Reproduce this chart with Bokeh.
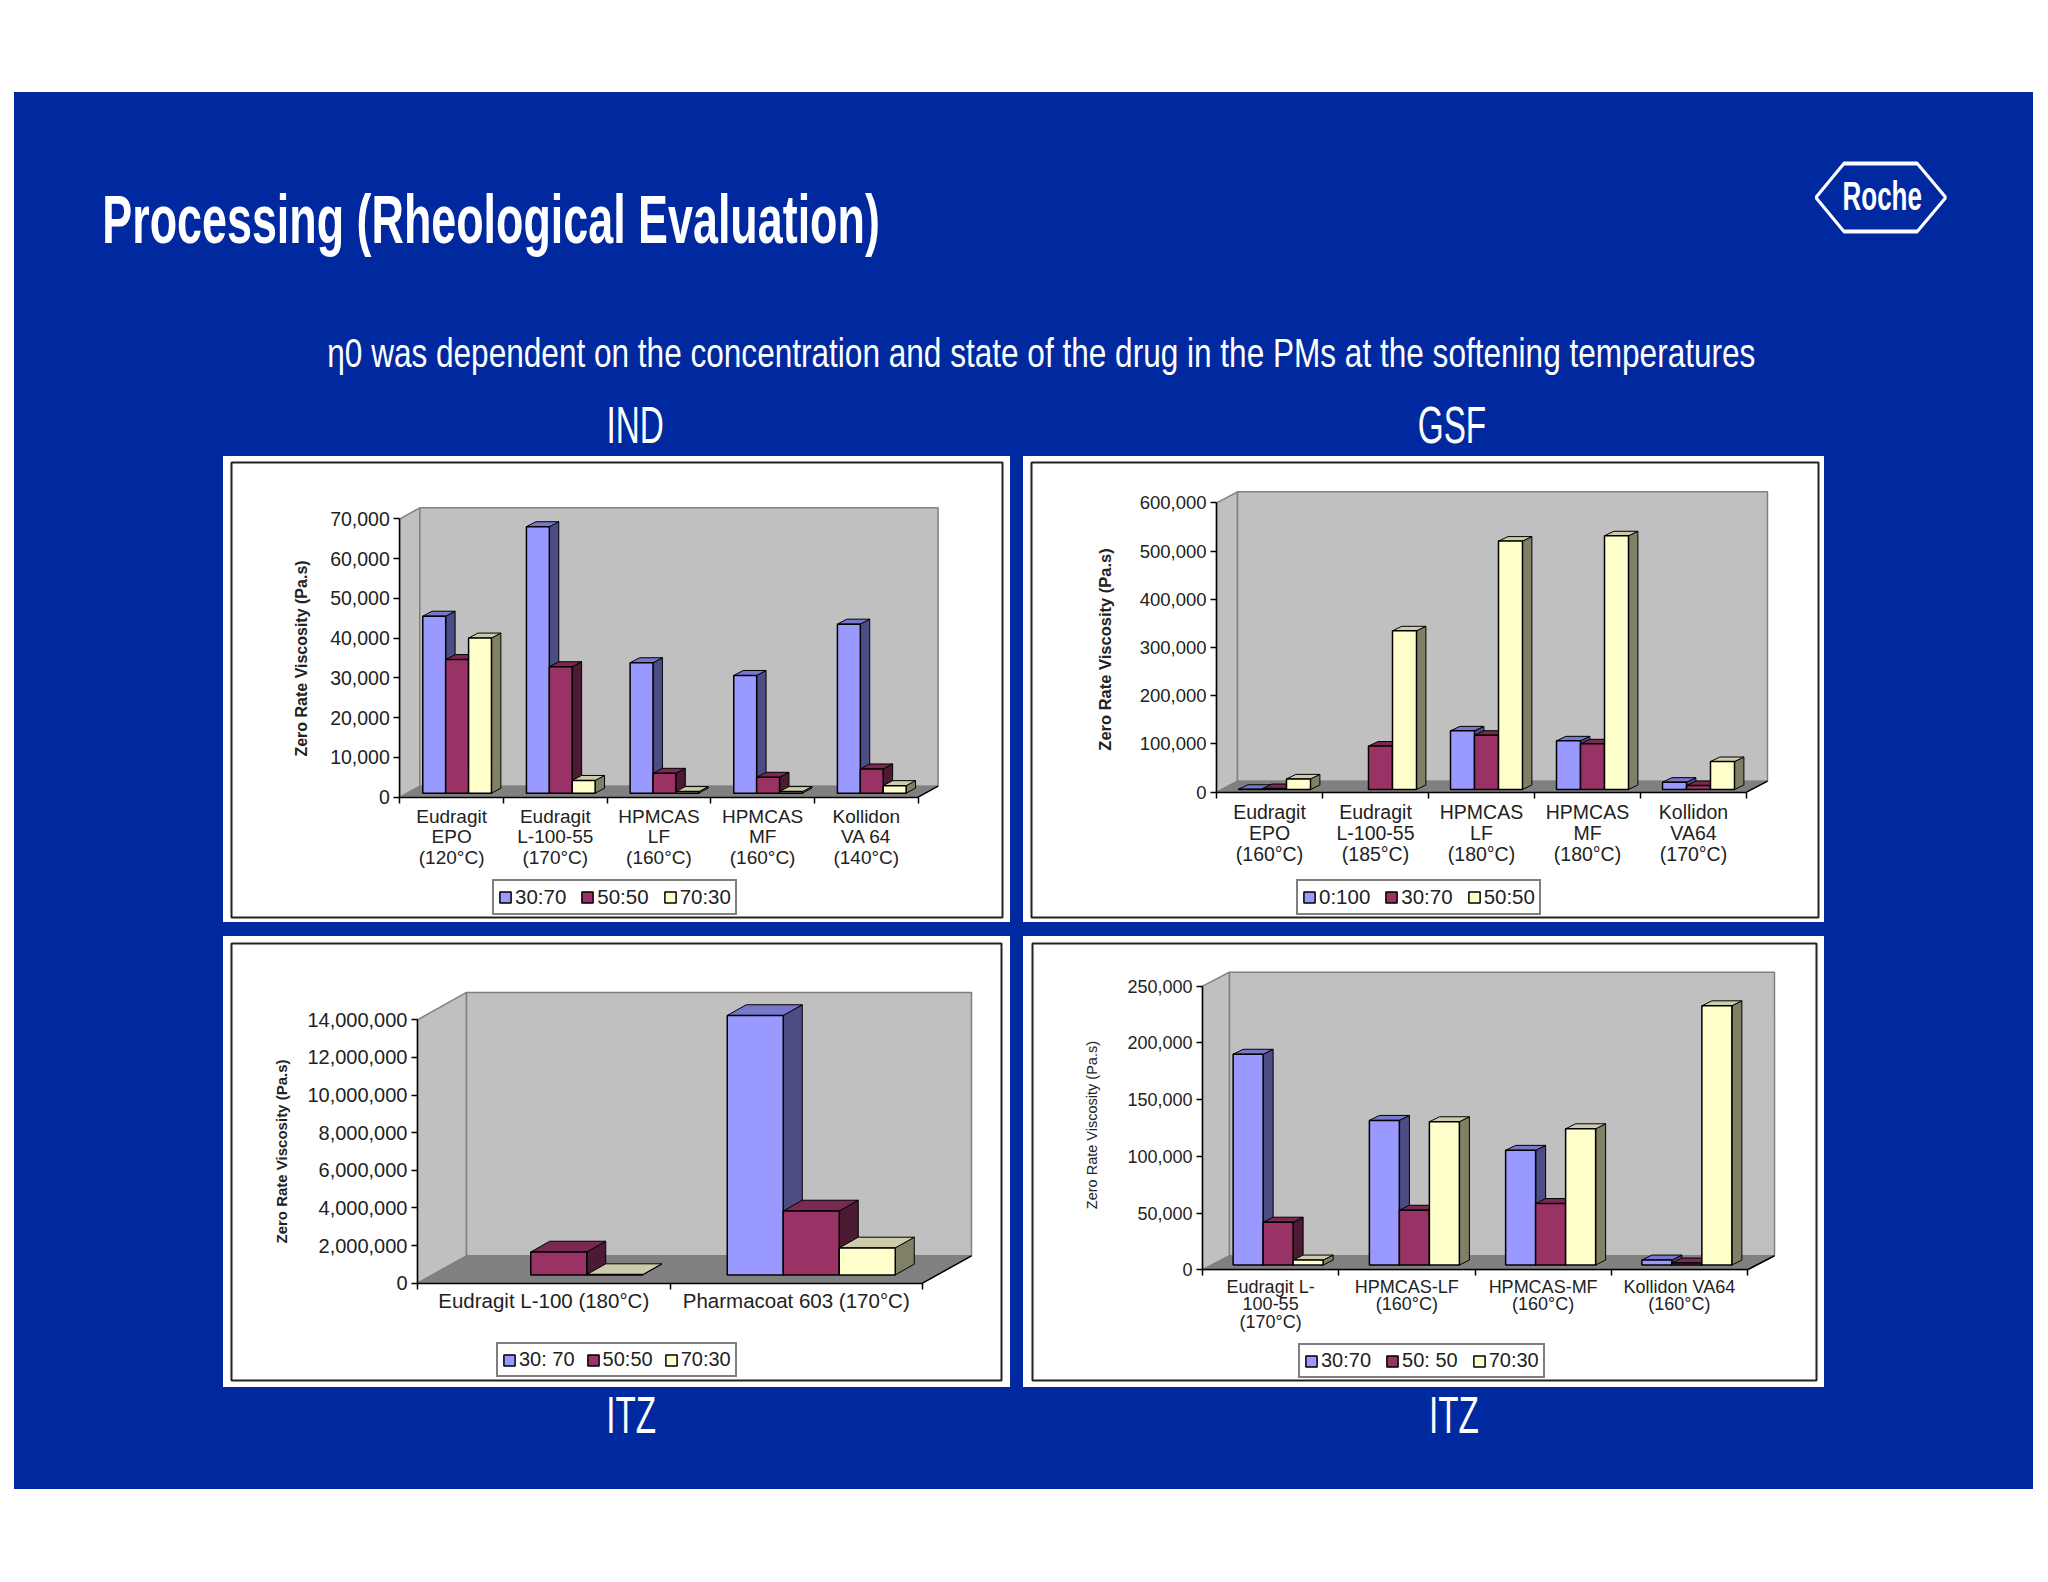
import math
from bokeh.plotting import figure
from bokeh.layouts import column, row
from bokeh.models import Range1d, FixedTicker, NumeralTickFormatter, Legend, LegendItem
from bokeh.core.properties import value
from bokeh.embed import file_html
from bokeh.resources import INLINE

# ---------- data ----------
title_text = "Processing (Rheological Evaluation)"
subtitle_text = "η0 was dependent on the concentration and state of the drug in the PMs at the softening temperatures"
ylabel_text = "Zero Rate Viscosity (Pa.s)"

ind_categories = ["Eudragit\nEPO\n(120°C)", "Eudragit\nL-100-55\n(170°C)", "HPMCAS\nLF\n(160°C)", "HPMCAS\nMF\n(160°C)", "Kollidon\nVA 64\n(140°C)"]
ind_series = ["30:70", "50:50", "70:30"]
ind_a = [44500, 67000, 32800, 29600, 42500]
ind_b = [33600, 31800, 5000, 4000, 6100]
ind_c = [39000, 3200, 400, 400, 1900]
ind_ticks = [0, 10000, 20000, 30000, 40000, 50000, 60000, 70000]

gsf_categories = ["Eudragit\nEPO\n(160°C)", "Eudragit\nL-100-55\n(185°C)", "HPMCAS\nLF\n(180°C)", "HPMCAS\nMF\n(180°C)", "Kollidon\nVA64\n(170°C)"]
gsf_series = ["0:100", "30:70", "50:50"]
gsf_a = [500, 0, 121600, 100900, 15200]
gsf_b = [2000, 90000, 112600, 94700, 8300]
gsf_c = [22000, 329000, 515000, 526000, 58000]
gsf_ticks = [0, 100000, 200000, 300000, 400000, 500000, 600000]

itz1_categories = ["Eudragit L-100 (180°C)", "Pharmacoat 603 (170°C)"]
itz1_series = ["30: 70", "50:50", "70:30"]
itz1_a = [0, 13790000]
itz1_b = [1220000, 3400000]
itz1_c = [20000, 1435000]
itz1_ticks = [0, 2000000, 4000000, 6000000, 8000000, 10000000, 12000000, 14000000]

itz2_categories = ["Eudragit L-\n100-55\n(170°C)", "HPMCAS-LF\n(160°C)", "HPMCAS-MF\n(160°C)", "Kollidon VA64\n(160°C)"]
itz2_series = ["30:70", "50: 50", "70:30"]
itz2_a = [185800, 127500, 101100, 4400]
itz2_b = [37800, 48300, 54200, 1800]
itz2_c = [4400, 126300, 120100, 228500]
itz2_ticks = [0, 50000, 100000, 150000, 200000, 250000]

BLUE = "#00299f"
FILL = ["#9999ff", "#993366", "#ffffcc"]
SIDE = ["#4d4d85", "#4d1a33", "#808066"]
TOP = ["#7777cc", "#7a2952", "#ccccaa"]
SANS = "Liberation Sans"


def chart(cats, series, vals, ticks, panel, inner, axis, depth, bars, legend_box, ylab,
          tick_size="19.5px", x_size="19px", x_line=0.96, x_standoff=3, label_size="16px", label_style="bold",
          legend_size="20.5px", legend_spacing=14, margin=(0, 0, 0, 0)):
    pl, pt, pr, pb = panel
    il, it, ir, ib = inner
    ax0, ax1, ay0, aym = axis
    dx, dy = depth
    sx, sy, bw, bx, by = bars
    n = len(cats)
    ymax = ticks[-1]
    cat = (ax1 - ax0) / n
    vpp = ymax / (ay0 - aym)
    p = figure(width=pr - pl, height=pb - pt, output_backend="svg", toolbar_location=None,
               x_range=Range1d(-(ax0 - il) / cat, (ir - ax0) / cat),
               y_range=Range1d(-(ib - ay0) * vpp, (ay0 - it) * vpp),
               min_border_left=il - pl, min_border_right=pr - ir, min_border_top=it - pt, min_border_bottom=pb - ib,
               background_fill_color="white", border_fill_color="white",
               outline_line_color="#222222", outline_line_width=2,
               margin=margin, styles={"background-color": "white"})
    p.grid.visible = False
    du, dv = dx / cat, dy * vpp
    # walls and floor
    p.patch([0, du, du, 0], [0, dv, ymax + dv, ymax], fill_color="#c0c0c0", line_color="#808080", line_width=1.5)
    p.patch([du, n + du, n + du, du], [dv, dv, ymax + dv, ymax + dv], fill_color="#c0c0c0", line_color="#808080", line_width=1.5)
    p.patch([0, n, n + du, du], [0, 0, dv, dv], fill_color="#808080", line_color="#808080")
    p.line([n, n + du], [0, dv], line_color="black", line_width=1.5)
    # bars
    items = []
    bu, bv = bx / cat, by * vpp
    wu = bw / cat
    pad = ((cat - 3 * bw) / 2 + sx) / cat
    base = sy * vpp
    for j, (name, vs) in enumerate(zip(series, vals)):
        idx = [i for i in range(n) if vs[i] > 0]
        lft = [i + pad + j * wu for i in idx]
        rgt = [l + wu for l in lft]
        top = [base + vs[i] for i in idx]
        bot = [base] * len(idx)
        p.patches([[r, r + bu, r + bu, r] for r in rgt],
                  [[b, b + bv, t + bv, t] for b, t in zip(bot, top)],
                  fill_color=SIDE[j], line_color="black", line_width=1)
        p.patches([[l, r, r + bu, l + bu] for l, r in zip(lft, rgt)],
                  [[t, t, t + bv, t + bv] for t in top],
                  fill_color=TOP[j], line_color="black", line_width=1)
        g = p.quad(left=lft, right=rgt, bottom=bot, top=top, fill_color=FILL[j], line_color="black", line_width=1.5)
        items.append(LegendItem(label=name, renderers=[g]))
    # y axis
    ya = p.yaxis[0]
    ya.fixed_location = 0
    ya.bounds = (0, ymax)
    ya.ticker = FixedTicker(ticks=ticks)
    ya.formatter = NumeralTickFormatter(format="0,0")
    ya.major_tick_in = 0
    ya.major_tick_out = 6
    ya.minor_tick_in = 0
    ya.minor_tick_out = 0
    ya.axis_line_color = "black"
    ya.axis_line_width = 1.5
    ya.major_tick_line_width = 1.5
    ya.major_label_text_font = SANS
    ya.major_label_text_font_size = tick_size
    ya.major_label_text_color = "#222222"
    ya.major_label_standoff = 4
    # rotated value-axis title, centred where the reference has it
    lx, ly = ylab
    p.text([(lx - ax0) / cat], [(ay0 - ly) * vpp], text=[ylabel_text], angle=math.pi / 2,
           text_font=value(SANS), text_font_size=label_size, text_font_style=label_style,
           text_color="#222222", text_align="center", text_baseline="middle")
    # x axis: labels at group centres, ticks at group edges
    xa = p.xaxis[0]
    xa.fixed_location = 0
    xa.bounds = (0, n)
    centres = [i + 0.5 for i in range(n)]
    xa.ticker = FixedTicker(ticks=centres, minor_ticks=list(range(n + 1)))
    xa.major_label_overrides = {c: t for c, t in zip(centres, cats)}
    xa.major_tick_in = 0
    xa.major_tick_out = 0
    xa.minor_tick_in = 0
    xa.minor_tick_out = 6
    xa.axis_line_color = "black"
    xa.axis_line_width = 1.5
    xa.minor_tick_line_width = 1.5
    xa.major_label_text_font = SANS
    xa.major_label_text_font_size = x_size
    xa.major_label_text_line_height = x_line
    xa.major_label_text_color = "#222222"
    xa.major_label_standoff = x_standoff
    # legend
    lx0, ly0, lx1, ly1 = legend_box
    leg = Legend(items=items, orientation="horizontal", location=(lx0 - il, ib - ly1 - 3),
                 label_text_font=SANS, label_text_font_size=legend_size, label_text_color="#222222",
                 glyph_width=14, glyph_height=14, spacing=legend_spacing, padding=4, margin=0,
                 label_standoff=3, label_height=16,
                 border_line_color="black", border_line_width=2, background_fill_color="white",
                 background_fill_alpha=1)
    p.add_layout(leg, "center")
    return p


def band(y0, h, k):
    """A strip of the blue slide, squeezed sideways by k because the slide's type is condensed.
    Bokeh measures the host after the CSS transform, hence the k squared."""
    w = int(round(2019 / (k * k)))
    p = figure(width=w, height=h, output_backend="svg", toolbar_location=None,
               x_range=Range1d(14, 2033), y_range=Range1d(y0 + h, y0),
               min_border=0, background_fill_color=BLUE, border_fill_color=BLUE, outline_line_color=None,
               styles={"transform": f"scaleX({k})", "transform-origin": "0 0",
                       "width": f"{w}px", "min-width": f"{w}px", "max-width": "none"})
    p.axis.visible = False
    p.grid.visible = False
    return p


def label(p, x, y, text, size, style="normal", align="center"):
    # y is the wanted baseline; the alphabetic setting lands about 0.35 em below it
    p.text([x], [y - 0.35 * float(size[:-2])], text=[text], text_color="white", text_font=value(SANS),
           text_font_size=size, text_font_style=style, text_align=align, text_baseline="alphabetic")


head_a = band(92, 218, 0.65)
label(head_a, 102, 243, title_text, "69px", style="bold", align="left")
head_a.patch([1843.7, 1917, 1945.6, 1917, 1843.7, 1815.6], [163, 163, 197, 231, 231, 197],
             fill_alpha=0, line_color="white", line_width=4)
label(head_a, 1882, 209, "Roche", "40px", style="bold")

head_b = band(310, 80, 0.77)
label(head_b, 327, 367, subtitle_text, "41px", align="left")

head_c = band(390, 66, 0.64)
label(head_c, 635, 443, "IND", "52px")
label(head_c, 1452, 443, "GSF", "52px")

c1 = chart(ind_categories, ind_series, [ind_a, ind_b, ind_c], ind_ticks,
           (223, 456, 1010, 922), (231, 462, 1002, 917), (399.3, 917.6, 796.7, 518.3), (20, 11), (5.5, 4, 22.9, 9.4, 5),
           (492, 883, 740, 912), (301, 658), margin=(0, 0, 0, 209))
c2 = chart(gsf_categories, gsf_series, [gsf_a, gsf_b, gsf_c], gsf_ticks,
           (1023, 456, 1824, 922), (1031, 462, 1818, 917), (1216, 1746, 791.7, 502.3), (21, 11), (5, 2.7, 24, 9.4, 4.5),
           (1296, 882, 1550, 912), (1104, 649), tick_size="18.5px", x_size="19.5px", x_line=0.96, x_standoff=3,
           label_size="16.5px", margin=(0, 0, 0, 13))
c3 = chart(itz1_categories, itz1_series, [itz1_a, itz1_b, itz1_c], itz1_ticks,
           (223, 936, 1010, 1387), (231, 943, 1001, 1380), (417, 922, 1282.7, 1019.3), (49, 27.4), (15, 8.3, 56, 19, 10.7),
           (496, 1348, 737, 1374), (281, 1151), tick_size="20px", x_size="20.5px", x_standoff=0, legend_size="20px",
           legend_spacing=11, label_size="15px", margin=(14, 0, 0, 209))
c4 = chart(itz2_categories, itz2_series, [itz2_a, itz2_b, itz2_c], itz2_ticks,
           (1023, 936, 1824, 1387), (1032, 943, 1816, 1381), (1202, 1747, 1270, 985.7), (27, 14), (7.5, 4.7, 30, 10, 5),
           (1298, 1350, 1548, 1376), (1091, 1125), tick_size="18px", x_size="18px", x_line=0.88, x_standoff=1,
           legend_size="20px", label_size="14.5px", label_style="normal", margin=(14, 0, 0, 13))

foot = band(1387, 102, 0.64)
label(foot, 631, 1433, "ITZ", "52px")
label(foot, 1454, 1433, "ITZ", "52px")

page = column(head_a, head_b, head_c, row(c1, c2), row(c3, c4), foot, margin=(92, 0, 0, 14),
              styles={"background-color": BLUE}, width=2019, height=1397)

open("out.html", "w").write(file_html(page, INLINE))
